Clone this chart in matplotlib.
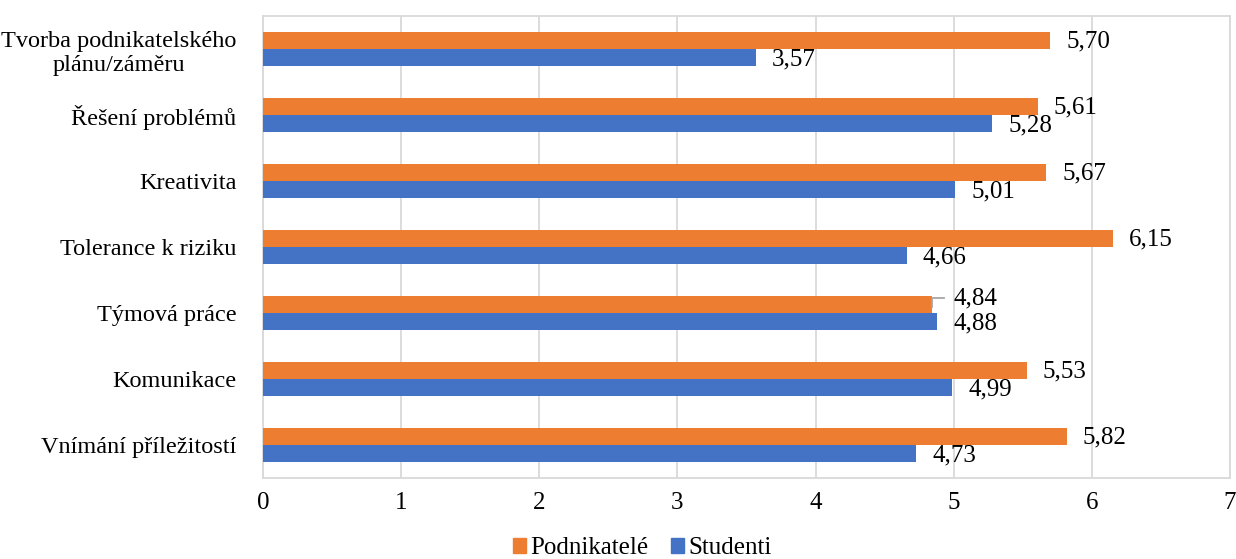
import matplotlib
matplotlib.use("Agg")
import matplotlib.pyplot as plt
import numpy as np
from matplotlib.patches import Patch

categories = ["Tvorba podnikatelského\nplánu/záměru", "Řešení problémů", "Kreativita",
              "Tolerance k riziku", "Týmová práce", "Komunikace", "Vnímání příležitostí"]
podnikatele = [5.70, 5.61, 5.67, 6.15, 4.84, 5.53, 5.82]
studenti = [3.57, 5.28, 5.01, 4.66, 4.88, 4.99, 4.73]
series_names = ["Podnikatelé", "Studenti"]
xticks = [0, 1, 2, 3, 4, 5, 6, 7]

ORANGE = "#ED7D31"
BLUE = "#4472C4"
GRID = "#D9D9D9"

plt.rcParams['font.family'] = ['Liberation Serif', 'DejaVu Serif']

fig = plt.figure(figsize=(12.36, 5.59), dpi=100)
ax = fig.add_axes([263/1236, 1-478/559, (1230-263)/1236, (478-16)/559])

n = len(categories)
y = np.arange(n)
h = 0.258
ax.barh(y - h/2, podnikatele, height=h, color=ORANGE, zorder=3)
ax.barh(y + h/2, studenti, height=h, color=BLUE, zorder=3)

ax.set_ylim(n - 0.5, -0.5)
ax.set_xlim(0, 7)
ax.set_xticks(xticks)
ax.set_xticklabels([str(t) for t in xticks], fontsize=18)
ax.set_yticks(y)
ax.set_yticklabels(categories, fontsize=17.5, ha='right', multialignment='center', linespacing=1.2)
ax.tick_params(axis='y', length=0, pad=19)
ax.tick_params(axis='x', length=0, pad=10)

ax.grid(axis='x', color=GRID, linewidth=1.3, zorder=0)
for s in ax.spines.values():
    s.set_color(GRID)
    s.set_linewidth(1.3)

def fmt(v):
    return f"{v:.2f}".replace(".", ",")

px = 7 / (1230 - 263)
for i in range(n):
    po, st = podnikatele[i], studenti[i]
    if abs(po - st) < 0.2:
        xl = max(po, st) + 16 * px
        yo = i - h/2 - 0.09
        ax.plot([po, po, po + 12 * px], [i - h/2 + 0.04, i - h + 0.03, i - h + 0.03],
                color="#A6A6A6", lw=1.3, zorder=4, clip_on=False)
    else:
        xl = po + 16 * px
        yo = i - h/2 + 0.015
    ax.text(xl, yo, fmt(po), fontsize=18, va='center', ha='left', zorder=5)
    ax.text(st + 16 * px, i + h/2 + 0.03, fmt(st), fontsize=18, va='center', ha='left', zorder=5)

handles = [Patch(color=ORANGE), Patch(color=BLUE)]
fig.legend(handles, series_names, loc='center', bbox_to_anchor=(642/1236, 1-548/559),
           ncol=2, frameon=False, fontsize=18, handlelength=0.55, handleheight=0.55,
           handletextpad=0.15, columnspacing=0.9, borderpad=0)

fig.savefig("out.png", dpi=100)
